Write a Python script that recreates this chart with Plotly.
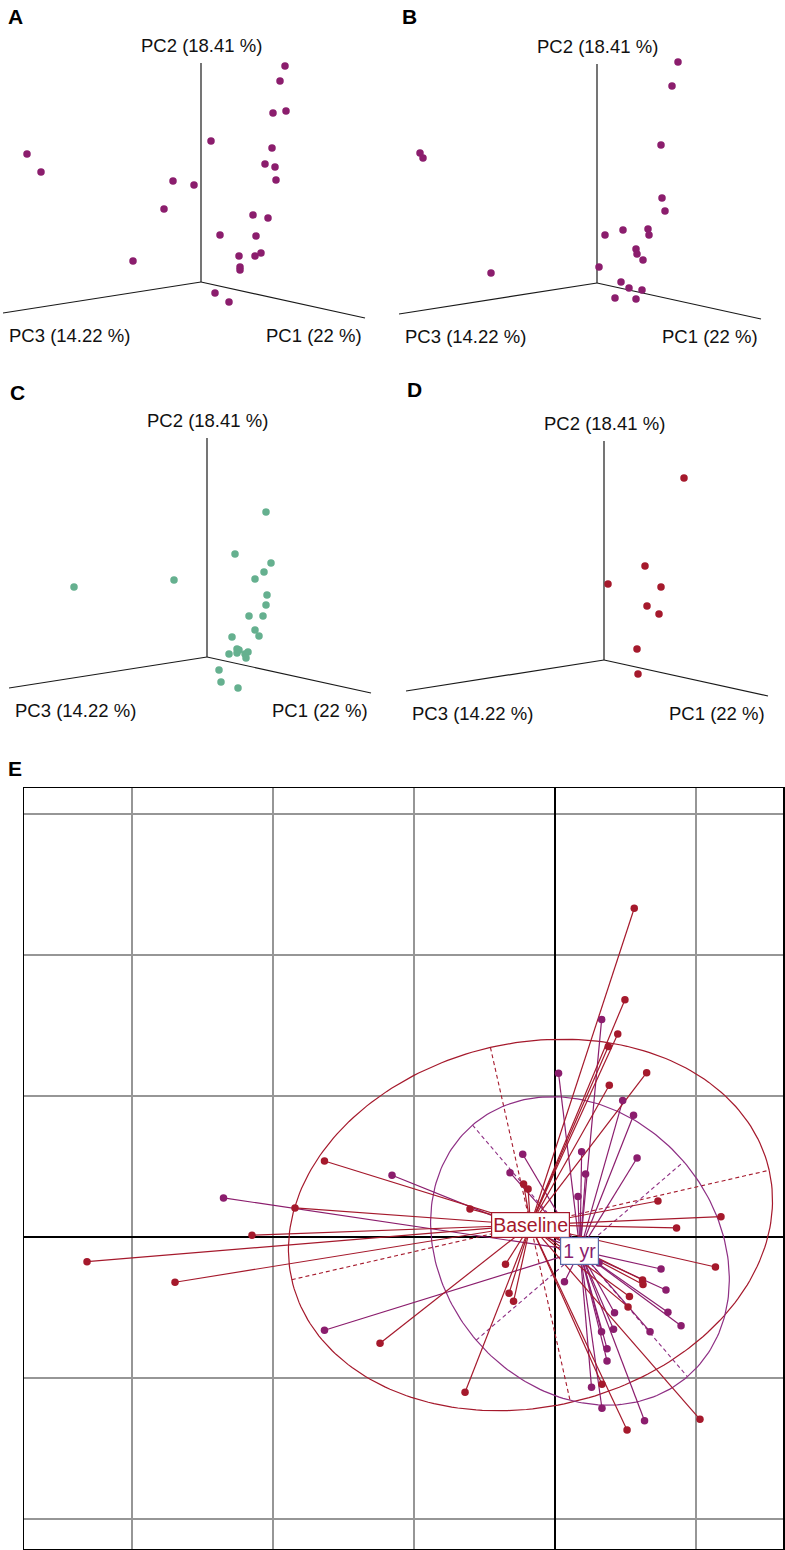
import numpy as np
import plotly.graph_objects as go

W, H = 785, 1550
FONT = "Liberation Sans, Arial, Helvetica, sans-serif"

# ---------------- Panels A-D : projected PCA scores (PC1/PC2/PC3 perspective) -------------
A_x = [84, 79, 72, 85, 10, -174, -160, 71, 64, 74, 75, -28, -7, -37, 52, 67, 19, 55, -68, 38, 54, 60, 39, 39, 14, 28]
A_y = [216, 201, 169, 171, 141, 128, 110, 134, 118, 115, 102, 101, 97, 73, 67, 64, 47, 46, 21, 26, 26, 29, 15, 12, -11, -20]

B_x = [81, 75, 64, -177, -174, 65, 68, 8, 26, 51, 52, 39, 40, 46, 2, -106, 24, 32, 45, 18, 39]
B_y = [221, 197, 138, 130, 125, 85, 72, 48, 53, 54, 48, 34, 29, 23, 16, 10, 1, -5, -7, -15, -16]

C_x = [59, 28, 64, 57, 48, -33, -133, 60, 59, 42, 56, 48, 52, 25, 30, 32, 41, 38, 30, 22, 39, 12, 14, 31]
C_y = [145, 103, 94, 85, 78, 77, 70, 62, 52, 41, 41, 27, 21, 20, 8, 7, 5, 3, 4, 3, -1, -13, -25, -31]

D_x = [80, 41, 4, 57, 43, 55, 33, 34]
D_y = [182, 94, 76, 73, 54, 46, 11, -14]

axis_labels = ["PC1 (22 %)", "PC2 (18.41 %)", "PC3 (14.22 %)"]
panel_letters = ["A", "B", "C", "D", "E"]

# ---------------- Panel E : star plot (s.class) ------------------------------------------
groups = ["Baseline", "1 yr"]
base_x = [0.562, 0.496, 0.445, 0.378, 0.650, 0.385, -1.635, -1.844, -2.149, -3.319, -2.695,
          -0.603, -0.223, -0.191, -0.351, -0.326, -0.294, -1.241, -0.638, 0.730, 1.177, 0.862,
          1.138, 0.621, 0.624, 0.528, 0.518, 0.333, 0.511, 1.028]
base_y = [2.331, 1.683, 1.440, 1.350, 1.165, 1.076, 0.539, 0.206, 0.012, -0.175, -0.321,
          0.199, 0.376, 0.340, -0.194, -0.399, -0.456, -0.754, -1.101, 0.255, 0.144, 0.064,
          -0.213, -0.305, -0.337, -0.422, -0.496, -1.045, -1.369, -1.293]
yr1_x = [0.331, 0.025, 0.480, 0.557, 0.582, -2.351, -1.156, -0.229, -0.319, 0.189, 0.217, 0.163,
         -1.635, 0.067, 0.312, 0.752, 0.787, 0.801, 0.894, 0.674, 0.422, 0.415, 0.330, 0.369,
         0.369, 0.259, 0.333, 0.635]
yr1_y = [1.543, 1.161, 0.967, 0.863, 0.560, 0.277, 0.438, 0.587, 0.456, 0.605, 0.447, 0.287,
         -0.662, -0.317, -0.184, -0.227, -0.376, -0.534, -0.629, -0.672, -0.537, -0.655, -0.672,
         -0.792, -0.879, -1.066, -1.215, -1.303]
centroid_x = [-0.174, 0.177]
centroid_y = [0.085, -0.099]
# ellipse semi-axis vectors (axis 1, axis 2) for each group
ell_ax1 = [(1.693, 0.388), (0.762, -0.892)]
ell_ax2 = [(0.284, -1.259), (0.736, 0.633)]

RED = "#a5192c"
PURPLE = "#8b1d6d"
GREEN = "#65b08f"
PURPLE_ELL = "#8e2f84"
BOX_1YR = "#5a6aa8"


def px2paper(x, y):
    return x / W, 1 - y / H


fig = go.Figure()

# panel definitions: (axis id, data x, data y, color, pixel box, origin px)
panels = [
    ("", A_x, A_y, PURPLE, (0, 0, 392, 340), (201, 282)),
    ("2", B_x, B_y, PURPLE, (392, 0, 785, 340), (597, 283)),
    ("3", C_x, C_y, GREEN, (0, 340, 392, 740), (207, 657)),
    ("4", D_x, D_y, RED, (392, 340, 785, 740), (604, 660)),
]
# perspective directions of the three PC axes (PC1, PC2, PC3)
axis_end = {"PC1": (164, -36), "PC2": (0, 219), "PC3": (-198, -31)}
label_pos = {"PC1": (113, -53), "PC2": (0, 237), "PC3": (-132, -53)}

layout_axes = {}
for aid, xs, ys, col, (x0, y0, x1, y1), (ox, oy) in panels:
    xa = "x" + aid
    ya = "y" + aid
    layout_axes["xaxis" + aid] = dict(domain=[x0 / W, x1 / W], range=[x0 - ox, x1 - ox],
                                       visible=False, anchor=ya, fixedrange=True)
    layout_axes["yaxis" + aid] = dict(domain=[1 - y1 / H, 1 - y0 / H], range=[oy - y1, oy - y0],
                                       visible=False, anchor=xa, fixedrange=True)
    # three axis lines
    lx, ly = [], []
    for k in ["PC1", "PC2", "PC3"]:
        ex, ey = axis_end[k]
        lx += [0, ex, None]
        ly += [0, ey, None]
    fig.add_trace(go.Scatter(x=lx, y=ly, mode="lines", xaxis=xa, yaxis=ya,
                             line=dict(color="#1a1a1a", width=1.2), hoverinfo="skip",
                             showlegend=False))
    fig.add_trace(go.Scatter(x=xs, y=ys, mode="markers", xaxis=xa, yaxis=ya,
                             marker=dict(color=col, size=7.5, line=dict(width=0)),
                             showlegend=False))
    for k, lab in zip(["PC1", "PC2", "PC3"], axis_labels):
        lxp, lyp = label_pos[k]
        fig.add_annotation(x=lxp, y=lyp, xref=xa, yref=ya, text=lab, showarrow=False,
                           font=dict(family=FONT, size=18.5, color="#111"),
                           xanchor="center", yanchor="middle")

# Panel E axes
E_px = (24, 788, 783, 1549)
layout_axes["xaxis5"] = dict(domain=[E_px[0] / W, E_px[2] / W], range=[-3.766, 1.617],
                             showgrid=True, gridcolor="#969696", gridwidth=1.3, dtick=1, tick0=0,
                             zeroline=True, zerolinecolor="#000", zerolinewidth=1.3,
                             showticklabels=False, ticks="", showline=True, mirror=True,
                             linecolor="#000", linewidth=1.5, anchor="y5", fixedrange=True)
layout_axes["yaxis5"] = dict(domain=[1 - E_px[3] / H, 1 - E_px[1] / H], range=[-2.213, 3.184],
                             showgrid=True, gridcolor="#969696", gridwidth=1.3, dtick=1, tick0=0,
                             zeroline=True, zerolinecolor="#000", zerolinewidth=1.3,
                             showticklabels=False, ticks="", showline=True, mirror=True,
                             linecolor="#000", linewidth=1.5, anchor="x5", fixedrange=True)

gx = [base_x, yr1_x]
gy = [base_y, yr1_y]
ell_cols = [RED, PURPLE_ELL]
star_cols = [RED, PURPLE]

# ellipses and their dashed axes
t = np.linspace(0, 2 * np.pi, 241)
for g in range(2):
    cx, cy = centroid_x[g], centroid_y[g]
    a1, a2 = ell_ax1[g], ell_ax2[g]
    ex = cx + a1[0] * np.cos(t) + a2[0] * np.sin(t)
    ey = cy + a1[1] * np.cos(t) + a2[1] * np.sin(t)
    fig.add_trace(go.Scatter(x=ex, y=ey, mode="lines", xaxis="x5", yaxis="y5",
                             line=dict(color=ell_cols[g], width=1.2), hoverinfo="skip",
                             showlegend=False))
    dx = [cx - a1[0], cx + a1[0], None, cx - a2[0], cx + a2[0]]
    dy = [cy - a1[1], cy + a1[1], None, cy - a2[1], cy + a2[1]]
    fig.add_trace(go.Scatter(x=dx, y=dy, mode="lines", xaxis="x5", yaxis="y5",
                             line=dict(color=ell_cols[g], width=1.1, dash="4px,3px"),
                             hoverinfo="skip", showlegend=False))

# star segments (1 yr drawn first, Baseline on top as in reference)
for g in [1, 0]:
    sx, sy = [], []
    for xv, yv in zip(gx[g], gy[g]):
        sx += [centroid_x[g], xv, None]
        sy += [centroid_y[g], yv, None]
    fig.add_trace(go.Scatter(x=sx, y=sy, mode="lines", xaxis="x5", yaxis="y5",
                             line=dict(color=star_cols[g], width=1.2), hoverinfo="skip",
                             showlegend=False))
for g in [1, 0]:
    fig.add_trace(go.Scatter(x=gx[g], y=gy[g], mode="markers", xaxis="x5", yaxis="y5",
                             marker=dict(color=star_cols[g], size=7.5, line=dict(width=0)),
                             name=groups[g], showlegend=False))

# group labels
fig.add_annotation(x=centroid_x[0], y=centroid_y[0], xref="x5", yref="y5", text=groups[0],
                   showarrow=False, font=dict(family=FONT, size=19.5, color=RED),
                   bgcolor="white", bordercolor=RED, borderwidth=1.2, borderpad=1)
fig.add_annotation(x=centroid_x[1], y=centroid_y[1], xref="x5", yref="y5", text=groups[1],
                   showarrow=False, font=dict(family=FONT, size=19.5, color=PURPLE),
                   bgcolor="white", bordercolor=BOX_1YR, borderwidth=1.2, borderpad=2)

# panel letters
letter_px = [(15, 16), (409, 16), (17, 392), (414, 390), (15, 768)]
for lt, (lx_, ly_) in zip(panel_letters, letter_px):
    px_, py_ = px2paper(lx_, ly_)
    fig.add_annotation(x=px_, y=py_, xref="paper", yref="paper", text="<b>" + lt + "</b>",
                       showarrow=False, font=dict(family=FONT, size=21, color="#000"),
                       xanchor="center", yanchor="middle")

fig.update_layout(width=W, height=H, margin=dict(l=0, r=0, t=0, b=0),
                  paper_bgcolor="white", plot_bgcolor="white", showlegend=False,
                  **layout_axes)

fig.write_html("out.html", config={"displayModeBar": False, "staticPlot": True},
               post_script="document.body.style.margin='0px';")
